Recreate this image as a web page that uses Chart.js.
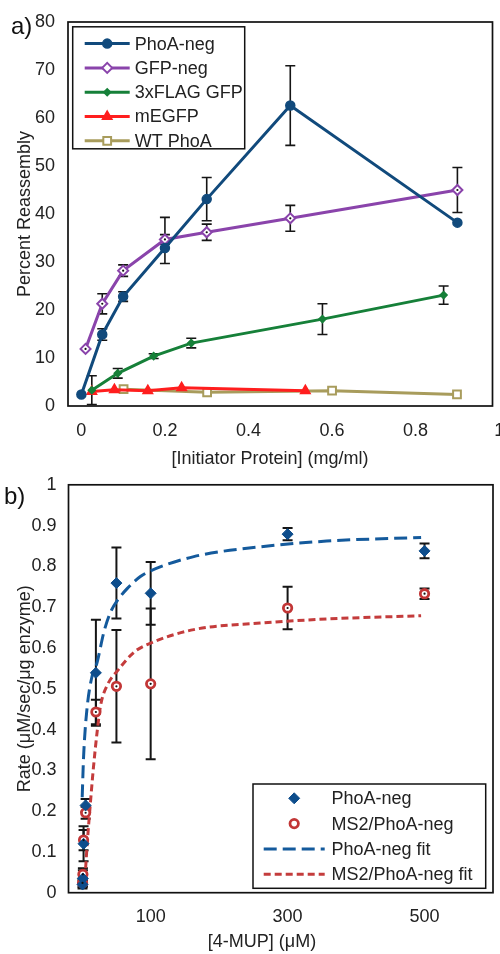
<!DOCTYPE html>
<html>
<head>
<meta charset="utf-8">
<script src="https://cdn.jsdelivr.net/npm/chart.js@4.4.1/dist/chart.umd.min.js"></script>
<style>
  html, body { margin: 0; padding: 0; background: #fff; }
  #wrap { position: relative; width: 500px; height: 954px; }
  #chartA { position: absolute; left: 0; top: 0; }
  #chartB { position: absolute; left: 0; top: 470px; }
</style>
</head>
<body>
<div id="wrap">
  <canvas id="chartA" width="500" height="470"></canvas>
  <canvas id="chartB" width="500" height="484"></canvas>
</div>
<script>
// ---- panel a) percent reassembly vs initiator protein ----
const aXTicks = [0, 0.2, 0.4, 0.6, 0.8, 1];

const phoaX = [0, 0.05, 0.1, 0.2, 0.3, 0.5, 0.9];
const phoaY = [2.4, 14.9, 22.8, 32.9, 43.1, 62.6, 38.2];
const phoaErr = [0, 1.2, 1.0, [3.2, 6.4], 4.5, 8.3, 0];

const gfpX = [0.01, 0.05, 0.1, 0.2, 0.3, 0.5, 0.9];
const gfpY = [11.9, 21.3, 28.2, 34.7, 36.2, 39.1, 45.0];
const gfpErr = [0, 2.1, 1.2, 1.0, 1.7, 2.7, 4.7];

const flagX = [0.025, 0.087, 0.173, 0.263, 0.577, 0.867];
const flagY = [3.3, 6.8, 10.4, 13.1, 18.1, 23.1];
const flagErr = [3.0, 1.0, 0.5, 1.0, 3.2, 1.9];

const megfpX = [0.025, 0.079, 0.159, 0.24, 0.536];
const megfpY = [3.0, 3.4, 3.2, 3.8, 3.2];

const wtX = [0.101, 0.301, 0.6, 0.899];
const wtY = [3.5, 2.85, 3.2, 2.4];

// ---- panel b) rate vs 4-MUP ----
const bXTicks = [100, 300, 500];
const mupX = [0.5, 1, 2, 5, 20, 50, 100, 300, 500];
const phoaRate = [0.02, 0.035, 0.12, 0.214, 0.539, 0.759, 0.734, 0.879, 0.838];
const phoaRateErr = [0.01, 0.02, 0.043, 0.016, 0.13, 0.087, 0.077, 0.015, 0.018];
const ms2Rate = [0.024, 0.045, 0.129, 0.196, 0.443, 0.506, 0.512, 0.698, 0.733];
const ms2RateErr = [0.01, 0.015, 0.025, 0.015, 0.03, 0.138, 0.185, 0.052, 0.013];

// fit curves
const phoaFitX = [0, 2, 6.7, 15, 21, 32, 42, 52, 66, 85, 100, 163, 260, 357, 495];
const phoaFitY = [0.234, 0.332, 0.446, 0.535, 0.56, 0.641, 0.69, 0.718, 0.746, 0.775, 0.789, 0.824, 0.848, 0.862, 0.871];
const ms2FitX = [5, 7.7, 11.5, 16, 22, 27, 37, 52, 76, 100, 163, 260, 357, 495];
const ms2FitY = [0.06, 0.129, 0.21, 0.299, 0.397, 0.46, 0.51, 0.545, 0.59, 0.612, 0.645, 0.661, 0.671, 0.679];

const FONT = "'Liberation Sans', Arial, sans-serif";
Chart.defaults.font.family = FONT;
Chart.defaults.font.size = 18;
Chart.defaults.color = '#222';

const pts = (xs, ys) => xs.map((x, i) => ({ x, y: ys[i] }));
const fmt = v => String(Math.round(v * 100) / 100);

function drawMarker(ctx, ds, x, y) {
  const r = ds.pointRadius, st = ds.pointStyle;
  if (!r) return;
  ctx.beginPath();
  if (st === 'circle') {
    ctx.arc(x, y, r, 0, Math.PI * 2);
  } else if (st === 'rectRot') {
    ctx.moveTo(x - r, y); ctx.lineTo(x, y - r); ctx.lineTo(x + r, y); ctx.lineTo(x, y + r); ctx.closePath();
  } else if (st === 'triangle') {
    const a = 2 * Math.PI / 3;
    ctx.moveTo(x, y - r);
    ctx.lineTo(x + r * Math.sin(a), y - r * Math.cos(a));
    ctx.lineTo(x + r * Math.sin(2 * a), y - r * Math.cos(2 * a));
    ctx.closePath();
  } else if (st === 'rect') {
    const s = r * Math.SQRT1_2;
    ctx.rect(x - s, y - s, 2 * s, 2 * s);
  }
  ctx.fillStyle = ds.pointBackgroundColor;
  ctx.fill();
  ctx.lineWidth = ds.pointBorderWidth;
  ctx.strokeStyle = ds.pointBorderColor;
  ctx.stroke();
}

const errorBars = {
  id: 'errorBars',
  beforeDatasetsDraw(chart) {
    const ctx = chart.ctx, ys = chart.scales.y;
    chart.data.datasets.forEach((ds, di) => {
      if (!ds.errors) return;
      const meta = chart.getDatasetMeta(di);
      ctx.save();
      ctx.strokeStyle = '#151515';
      ctx.lineWidth = ds.errWidth || 1.6;
      ds.errors.forEach((e, i) => {
        if (!e) return;
        const lo = Array.isArray(e) ? e[0] : e, hi = Array.isArray(e) ? e[1] : e;
        const v = ds.data[i].y, px = meta.data[i].x;
        const y1 = ys.getPixelForValue(v + hi), y2 = ys.getPixelForValue(v - lo);
        ctx.beginPath();
        ctx.moveTo(px, y1); ctx.lineTo(px, y2);
        ctx.moveTo(px - 5, y1); ctx.lineTo(px + 5, y1);
        ctx.moveTo(px - 5, y2); ctx.lineTo(px + 5, y2);
        ctx.stroke();
      });
      ctx.restore();
    });
  },
  afterDatasetsDraw(chart) {
    // small dark dot in the middle of hollow markers
    const ctx = chart.ctx;
    chart.data.datasets.forEach((ds, di) => {
      if (!ds.centerDot) return;
      ctx.save();
      ctx.fillStyle = '#111';
      chart.getDatasetMeta(di).data.forEach(p => {
        ctx.beginPath();
        ctx.arc(p.x, p.y, 1.1, 0, Math.PI * 2);
        ctx.fill();
      });
      ctx.restore();
    });
  }
};

const frame = {
  id: 'frame',
  afterDraw(chart, args, opts) {
    const { ctx, chartArea: a } = chart;
    ctx.save();
    ctx.strokeStyle = '#111';
    ctx.lineWidth = 1.7;
    ctx.strokeRect(a.left, a.top, a.right - a.left, a.bottom - a.top);
    // panel letter
    ctx.font = `24px ${FONT}`;
    ctx.fillStyle = '#111';
    ctx.textBaseline = 'alphabetic';
    ctx.fillText(opts.label, opts.lx, opts.ly);
    // x axis title, sits a little left of the plot centre in the original
    ctx.font = `18px ${FONT}`;
    ctx.fillStyle = '#222';
    ctx.textAlign = 'center';
    ctx.textBaseline = 'middle';
    ctx.fillText(opts.xTitle, opts.tx, opts.ty);
    ctx.restore();
  }
};

const boxLegend = {
  id: 'boxLegend',
  afterDraw(chart, args, o) {
    const { ctx, chartArea: a } = chart;
    const bx = o.fromRight ? a.right - o.dx - o.w : a.left + o.dx;
    const by = o.fromBottom ? a.bottom - o.dy - o.h : a.top + o.dy;
    ctx.save();
    ctx.fillStyle = '#fff';
    ctx.fillRect(bx, by, o.w, o.h);
    ctx.strokeStyle = '#111';
    ctx.lineWidth = 1.5;
    ctx.strokeRect(bx, by, o.w, o.h);
    ctx.font = `18px ${FONT}`;
    ctx.textBaseline = 'middle';
    chart.data.datasets.forEach((ds, i) => {
      const y = by + o.first + i * o.step;
      if (ds.showLine !== false) {
        ctx.beginPath();
        ctx.strokeStyle = ds.borderColor;
        ctx.lineWidth = ds.borderWidth;
        ctx.setLineDash(ds.borderDash || []);
        ctx.moveTo(bx + o.line0, y);
        ctx.lineTo(bx + o.line1, y);
        ctx.stroke();
        ctx.setLineDash([]);
      }
      drawMarker(ctx, ds, bx + (o.line0 + o.line1) / 2, y);
      ctx.fillStyle = '#222';
      ctx.fillText(ds.label, bx + o.text, y + 1);
    });
    ctx.restore();
  }
};

Chart.register(errorBars, frame, boxLegend);

function lineSet(label, xs, ys, color, style, radius, fill, extra) {
  return Object.assign({
    label,
    data: pts(xs, ys),
    borderColor: color,
    borderWidth: 3,
    pointStyle: style,
    pointRadius: radius,
    pointBackgroundColor: fill,
    pointBorderColor: color,
    pointBorderWidth: 1.5,
    tension: 0
  }, extra || {});
}

new Chart(document.getElementById('chartA'), {
  type: 'line',
  data: {
    datasets: [
      lineSet('PhoA-neg', phoaX, phoaY, '#114a7c', 'circle', 4.5, '#114a7c', { errors: phoaErr }),
      lineSet('GFP-neg', gfpX, gfpY, '#8a44ab', 'rectRot', 5, '#fff', { errors: gfpErr, pointBorderWidth: 2, centerDot: true }),
      lineSet('3xFLAG GFP', flagX, flagY, '#168039', 'rectRot', 3.5, '#168039', { errors: flagErr }),
      lineSet('mEGFP', megfpX, megfpY, '#ff1e1e', 'triangle', 5.5, '#ff1e1e'),
      lineSet('WT PhoA', wtX, wtY, '#a89c5c', 'rect', 5.5, '#fff', { pointBorderWidth: 2 })
    ]
  },
  options: {
    responsive: false,
    animation: false,
    events: [],
    layout: { padding: { top: 22, right: 7, left: 0, bottom: 0 } },
    plugins: {
      legend: { display: false },
      tooltip: { enabled: false },
      frame: { label: 'a)', lx: 11, ly: 34, xTitle: '[Initiator Protein] (mg/ml)', tx: 270, ty: 459 },
      boxLegend: { dx: 4.7, dy: 4.8, w: 172, h: 122, first: 16.8, step: 24.3, line0: 12, line1: 57, text: 62 }
    },
    scales: {
      x: {
        type: 'linear', min: -0.032, max: 0.984,
        grid: { display: false }, border: { display: false },
        afterBuildTicks: s => { s.ticks = aXTicks.map(v => ({ value: v })); },
        afterFit: s => { s.height = 64; s.paddingRight = 0; },
        ticks: { padding: 6, maxRotation: 0, autoSkip: false, callback: v => fmt(v) }
      },
      y: {
        min: 0, max: 80,
        grid: { display: false }, border: { display: false },
        afterFit: s => { s.width = 68; },
        ticks: { stepSize: 10, padding: 5 },
        title: { display: true, text: 'Percent Reassembly', padding: { top: 14, bottom: 0 } }
      }
    }
  }
});

new Chart(document.getElementById('chartB'), {
  type: 'line',
  data: {
    datasets: [
      {
        label: 'PhoA-neg', data: pts(mupX, phoaRate), errors: phoaRateErr, errWidth: 2,
        showLine: false, pointStyle: 'rectRot', pointRadius: 5.5,
        pointBackgroundColor: '#0d4d8c', pointBorderColor: '#0d4d8c', pointBorderWidth: 1
      },
      {
        label: 'MS2/PhoA-neg', data: pts(mupX, ms2Rate), errors: ms2RateErr, errWidth: 2, centerDot: true,
        showLine: false, pointStyle: 'circle', pointRadius: 4.2,
        pointBackgroundColor: '#fff', pointBorderColor: '#c23636', pointBorderWidth: 2.8
      },
      {
        label: 'PhoA-neg fit', data: pts(phoaFitX, phoaFitY),
        borderColor: '#145a9c', borderWidth: 3, borderDash: [13, 6], pointRadius: 0,
        cubicInterpolationMode: 'monotone'
      },
      {
        label: 'MS2/PhoA-neg fit', data: pts(ms2FitX, ms2FitY),
        borderColor: '#c43c3c', borderWidth: 3, borderDash: [7, 4], pointRadius: 0,
        cubicInterpolationMode: 'monotone'
      }
    ]
  },
  options: {
    responsive: false,
    animation: false,
    events: [],
    layout: { padding: { top: 12.7, right: 6.7, left: 0, bottom: 0 } },
    plugins: {
      legend: { display: false },
      tooltip: { enabled: false },
      frame: { label: 'b)', lx: 4, ly: 33.5, xTitle: '[4-MUP] (μM)', tx: 262, ty: 472 },
      boxLegend: { fromRight: true, fromBottom: true, dx: 7.3, dy: 4.4, w: 232.7, h: 104.3, first: 14.3, step: 25.3, line0: 10.7, line1: 71.7, text: 78.4 }
    },
    scales: {
      x: {
        type: 'linear', min: -20, max: 600,
        grid: { display: false }, border: { display: false },
        afterBuildTicks: s => { s.ticks = bXTicks.map(v => ({ value: v })); },
        afterFit: s => { s.height = 61.3; },
        ticks: { padding: 6, maxRotation: 0, autoSkip: false, callback: v => fmt(v) }
      },
      y: {
        min: 0, max: 1,
        grid: { display: false }, border: { display: false },
        afterFit: s => { s.width = 68.5; },
        ticks: { stepSize: 0.1, padding: 4, callback: v => fmt(v) },
        title: { display: true, text: 'Rate (μM/sec/μg enzyme)', padding: { top: 14, bottom: 0 } }
      }
    }
  }
});
</script>
</body>
</html>
